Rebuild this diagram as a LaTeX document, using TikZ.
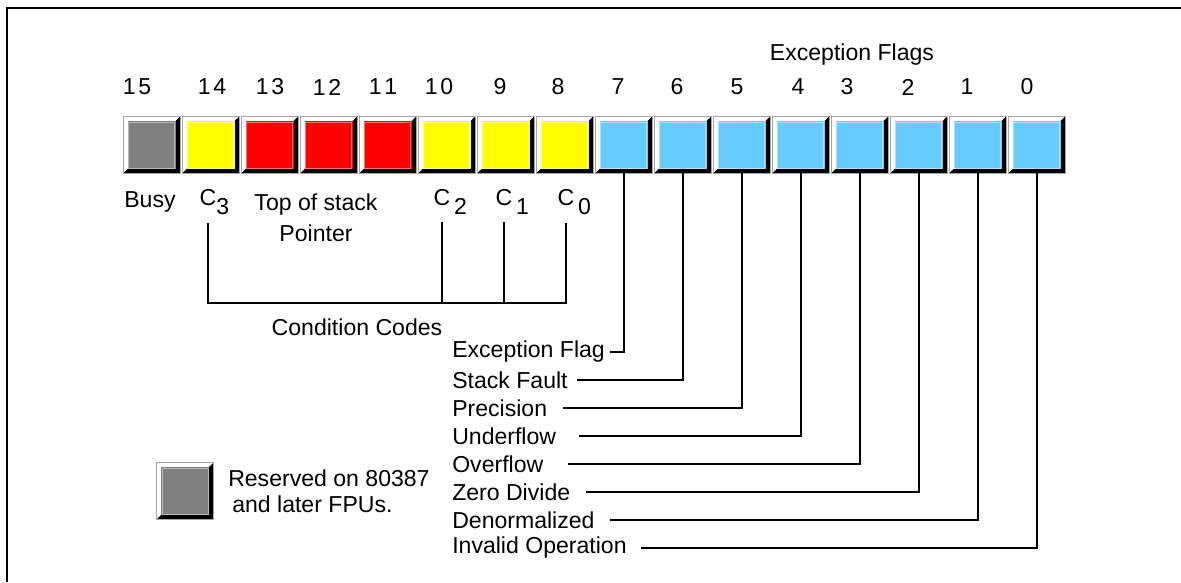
\documentclass[tikz,border=0pt]{standalone}
\usepackage{fontspec}
\setmainfont{Liberation Sans}
\usepackage{tikz}
\usetikzlibrary{positioning,calc}
\usepackage{xcolor}
\definecolor{busygray}{HTML}{808080}
\definecolor{ccyellow}{HTML}{FFFF00}
\definecolor{topred}{HTML}{FF0000}
\definecolor{flagblue}{HTML}{66CCFF}

\newcommand{\ccsub}[2][\,]{\rlap{#1\raisebox{-0.38em}{#2}}}

\begin{document}
\begin{tikzpicture}[
  x=0.75pt, y=-0.75pt,
  bitbox/.style={draw=gray!70, fill=white, thin, minimum size=42.75pt, inner sep=0pt, outer sep=0pt,
    path picture={
      \coordinate (ppnw) at (path picture bounding box.north west);
      \coordinate (ppse) at (path picture bounding box.south east);
      \fill[black] (ppnw -| ppse) -- (ppse) -- (ppse -| ppnw) -- ++(4.5,-4.5)
        -- ($(ppse)+(-4.5,-4.5)$) -- ($(ppnw -| ppse)+(-4.5,4.5)$) -- cycle;
      \fill[#1] ($(ppnw)+(4.5,4.5)$) rectangle ($(ppse)+(-4.5,-4.5)$);
      \draw[#1!55!white, line width=0.6pt] ($(ppnw)+(5.5,5.5)$) rectangle ($(ppse)+(-5.5,-5.5)$);
    }},
  lbl/.style={font=\fontsize{17.3}{20}\selectfont, inner sep=0pt},
  bitnum/.style={lbl},
  cclbl/.style={lbl, outer ysep=6.75pt},
  flaglbl/.style={lbl, anchor=west},
  wire/.style={line width=1.5pt, line cap=rect},
  frame/.style={line width=1.5pt}
]
  \useasboundingbox (0,0) rectangle (1181,582);
  \draw[frame] (1181,8) -- (7,8) -- (7,582);

  % register bits
  \node[bitbox=busygray] (b15) at (151.5,145) {};
  \node[bitbox=ccyellow, right=1.5pt of b15] (b14) {};
  \node[bitbox=topred, right=1.5pt of b14] (b13) {};
  \node[bitbox=topred, right=1.5pt of b13] (b12) {};
  \node[bitbox=topred, right=1.5pt of b12] (b11) {};
  \node[bitbox=ccyellow, right=1.5pt of b11] (b10) {};
  \node[bitbox=ccyellow, right=1.5pt of b10] (b9) {};
  \node[bitbox=ccyellow, right=1.5pt of b9] (b8) {};
  \node[bitbox=flagblue, right=1.5pt of b8] (b7) {};
  \node[bitbox=flagblue, right=1.5pt of b7] (b6) {};
  \node[bitbox=flagblue, right=1.5pt of b6] (b5) {};
  \node[bitbox=flagblue, right=1.5pt of b5] (b4) {};
  \node[bitbox=flagblue, right=1.5pt of b4] (b3) {};
  \node[bitbox=flagblue, right=1.5pt of b3] (b2) {};
  \node[bitbox=flagblue, right=1.5pt of b2] (b1) {};
  \node[bitbox=flagblue, right=1.5pt of b1] (b0) {};

  % bit numbers
  \node[bitnum] (n15) at (137,87) {1\kern2pt5};
  \node[bitnum] (n14) at (212,87) {1\kern2pt4};
  \node[bitnum] (n13) at (270,87) {1\kern2pt3};
  \node[bitnum] (n12) at (327,87) {1\kern2pt2};
  \node[bitnum] (n11) at (383,87) {1\kern2pt1};
  \node[bitnum] (n10) at (439,87) {1\kern2pt0};
  \node[bitnum] (n9) at (500,87) {9};
  \node[bitnum] (n8) at (558,87) {8};
  \node[bitnum] (n7) at (618,87) {7};
  \node[bitnum] (n6) at (677,87) {6};
  \node[bitnum] (n5) at (737,87) {5};
  \node[bitnum] (n4) at (798,87) {4};
  \node[bitnum] (n3) at (847,87) {3};
  \node[bitnum] (n2) at (908,87) {2};
  \node[bitnum] (n1) at (967,87) {1};
  \node[bitnum] (n0) at (1027,87) {0};
  \node[lbl] (exflags) at (852,55) {Exception Flags};

  % fields under the register
  \node[lbl] (busy) at (150,202) {Busy};
  \node[cclbl] (c3) at (208,202) {C\ccsub[]{3}};
  \node[lbl, align=center, font=\fontsize{17.3}{23.25}\selectfont] (tos) at (316,217.5) {Top of stack\\Pointer};
  \node[cclbl] (c2) at (442,202) {C\ccsub{2}};
  \node[cclbl] (c1) at (504,202) {C\ccsub{1}};
  \node[cclbl] (c0) at (566,202) {C\ccsub{0}};
  \coordinate (ccbar) at (390,303);
  \node[lbl] (ccodes) at (357,327) {Condition Codes};

  \draw[wire] (c3.south) |- (ccbar) -| (c0.south);
  \draw[wire] (c2.south) -- (c2.south |- ccbar);
  \draw[wire] (c1.south) -- (c1.south |- ccbar);

  % exception flags
  \node[flaglbl] (fexc) at (452,352) {Exception Flag};
  \node[flaglbl] (fstk) at (452,380) {Stack Fault};
  \node[flaglbl] (fprec) at (452,408) {Precision};
  \node[flaglbl] (funder) at (452,436) {Underflow};
  \node[flaglbl] (fover) at (452,464) {Overflow};
  \node[flaglbl] (fzero) at (452,492) {Zero Divide};
  \node[flaglbl] (fden) at (452,520) {Denormalized};
  \node[flaglbl] (finv) at (452,548) {Invalid Operation};

  \draw[wire] (b7.south) |- ($(fexc.east)+(6,0)$);
  \draw[wire] (b6.south) |- ($(fstk.east)+(10,0)$);
  \draw[wire] (b5.south) |- ($(fprec.east)+(17,0)$);
  \draw[wire] (b4.south) |- ($(funder.east)+(24,0)$);
  \draw[wire] (b3.south) |- ($(fover.east)+(25,0)$);
  \draw[wire] (b2.south) |- ($(fzero.east)+(17,0)$);
  \draw[wire] (b1.south) |- ($(fden.east)+(16,0)$);
  \draw[wire] (b0.south) |- ($(finv.east)+(15,0)$);

  % legend
  \node[bitbox=busygray] (resbox) at (185,491) {};
  \node[lbl, anchor=west, align=left, font=\fontsize{17.3}{19.5}\selectfont] (restext) at (228,491) {Reserved on 80387\\\hspace{3pt}and later FPUs.};
\end{tikzpicture}
\end{document}
